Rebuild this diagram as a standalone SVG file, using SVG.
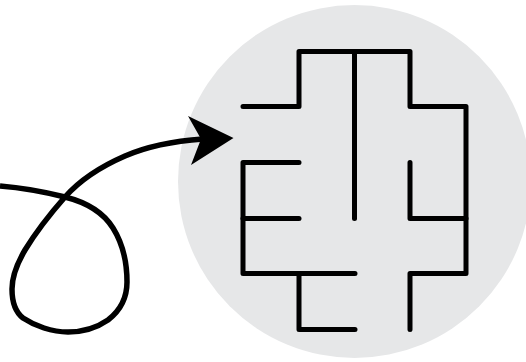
<svg xmlns="http://www.w3.org/2000/svg" width="526" height="362" viewBox="0 0 526 362">
<style>.m{fill:none;stroke:#000;stroke-width:5;stroke-linecap:round;stroke-linejoin:round}</style>
<rect width="526" height="362" fill="#fff"/>
<circle cx="354.500" cy="181.500" r="176.500" fill="#e6e7e8"/>
<g id="maze">
<path class="m" d="M243 106.500H299V51.500H410V106.500H466V273.500H410V329.500"/>
<path class="m" d="M354.500 51.500V218.500"/>
<path class="m" d="M299 162.500H243V273.500H355"/>
<path class="m" d="M243 218.500H299"/>
<path class="m" d="M299 273.500V329.500H355"/>
<path class="m" d="M410 162.500V218.500H466"/>
</g>
<g id="connectors">
<path d="M0 186C25 188 45 192 65 197C85 202 103 212 113 228C123 244 127 262 127 282C127 298 121 310 108 320C95 329 82 332 68 332C52 332 35 326 23 318C14 311 12 300 12 289C12 275 18 262 25 250C36 232 50 214 65 197C80 180 102 166 125 156C148 146 175 141 203 139" fill="none" stroke="#000" stroke-width="5.500"/>
<path d="M233.500 138L188 116L201 139L191 165Z" fill="#000"/>
</g>
</svg>
